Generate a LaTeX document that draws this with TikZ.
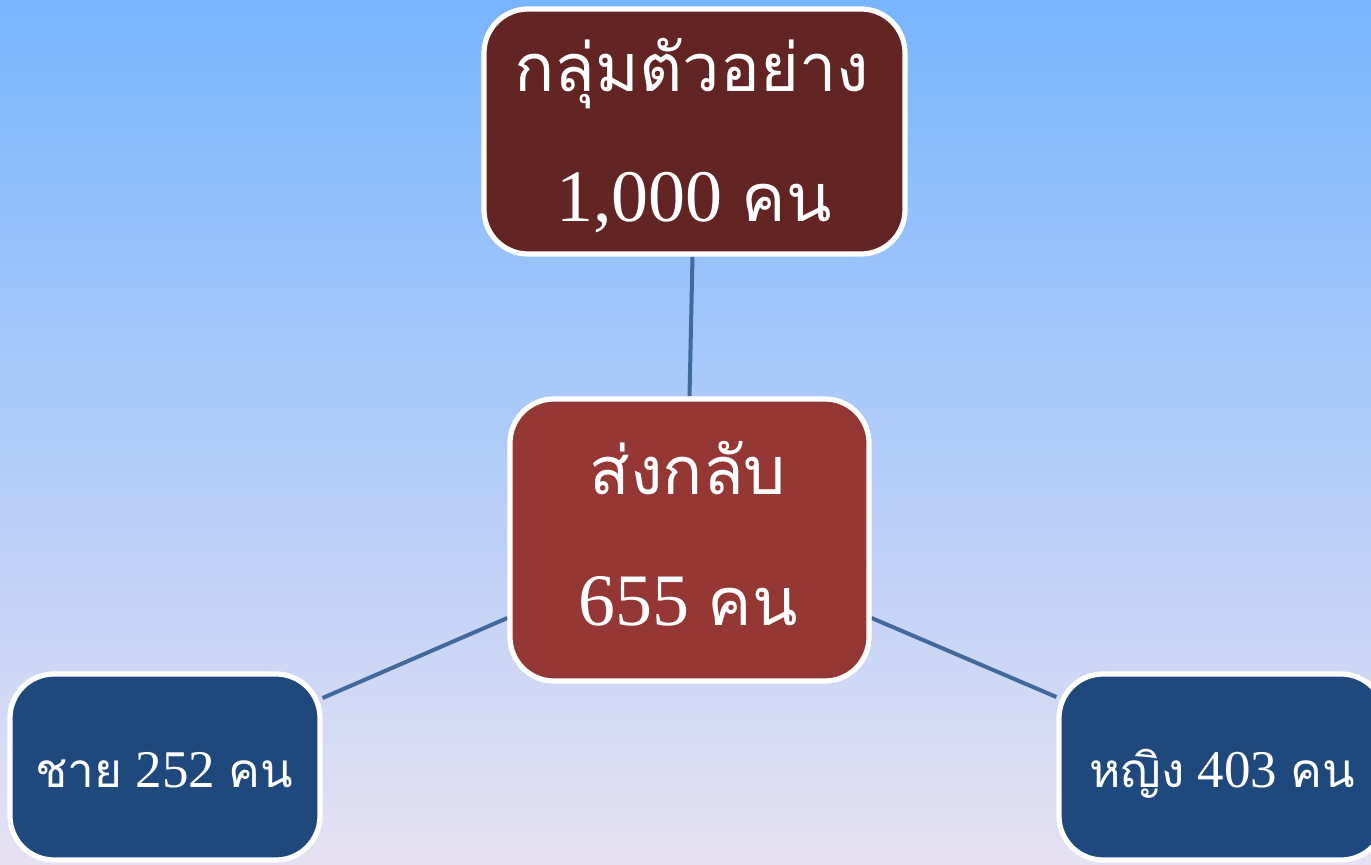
\documentclass[tikz,border=0pt]{standalone}
\usepackage{fontspec}
\setmainfont{Liberation Serif}
\newfontfamily\thai[Script=Thai,Scale=0.9]{Loma}
\definecolor{bgtop}{HTML}{78B5FF}
\definecolor{bgmid}{HTML}{AACBF0}
\definecolor{bgbot}{HTML}{E6E1F2}
\definecolor{boxtop}{HTML}{632523}
\definecolor{boxmid}{HTML}{953735}
\definecolor{boxblue}{HTML}{1F497D}
\definecolor{linkcol}{HTML}{41699B}
\pgfdeclarelayer{bg}
\pgfdeclarelayer{edges}
\pgfsetlayers{bg,edges,main}
\tikzset{
  card/.style={draw=white, line width=2.6pt, rounded corners=22pt, inner sep=0pt},
  bigtxt/.style={text=white, inner sep=0pt, anchor=base, font=\fontsize{37}{44}\selectfont},
  smalltxt/.style={text=white, inner sep=0pt, anchor=base, font=\fontsize{26.5}{32}\selectfont},
  link/.style={draw=linkcol, line width=2pt}
}
\begin{document}
\begin{tikzpicture}[x=0.5pt,y=-0.5pt]
\useasboundingbox (0,0) rectangle (1371,865);
\clip (0,0) rectangle (1371,865);
\begin{pgfonlayer}{bg}
\shade[top color=bgtop, middle color=bgmid, bottom color=bgbot] (0,0) rectangle (1371,865);
\end{pgfonlayer}

\node[card, fill=boxtop, minimum width=210.5pt, minimum height=122.5pt] (top) at (694.5,131.5) {};
\node[card, fill=boxmid, minimum width=179.5pt, minimum height=141pt] (mid) at (689.5,540) {};
\node[card, fill=boxblue, minimum width=155pt, minimum height=93pt] (left) at (165,767) {};
\node[card, fill=boxblue, minimum width=163pt, minimum height=93pt] (right) at (1222,767) {};

\node[bigtxt] (t1) at (692,92) {\thai กลุ่มตัวอย่าง};
\node[bigtxt] (t2) at (694,222) {1,000 {\thai คน}};
\node[bigtxt] (m1) at (688,495) {\thai ส่งกลับ};
\node[bigtxt] (m2) at (688,625) {655 {\thai คน}};
\node[smalltxt] (l1) at (164,787) {{\thai ชาย} 252 {\thai คน}};
\node[smalltxt] (r1) at (1222,787) {{\thai หญิง} 403 {\thai คน}};

\begin{pgfonlayer}{edges}
\draw[link] ([xshift=-1pt]top.south) -- (mid.north);
\draw[link] ([yshift=-39pt]mid.west) -- ([yshift=34.5pt]left.east);
\draw[link] ([yshift=-39pt]mid.east) -- ([yshift=35pt]right.west);
\end{pgfonlayer}
\end{tikzpicture}
\end{document}
